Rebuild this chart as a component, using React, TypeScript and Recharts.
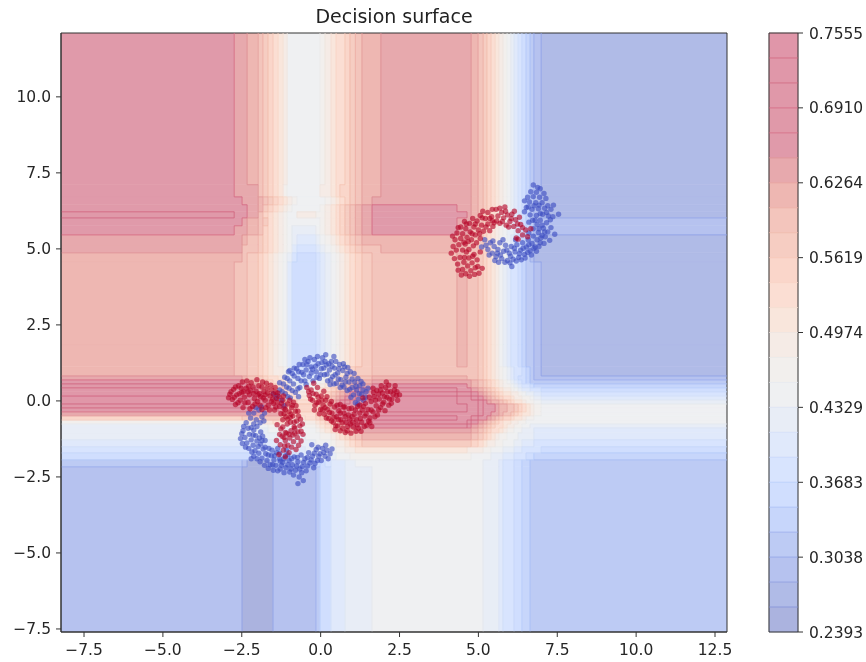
import React from 'react';
import { ScatterChart, Scatter, XAxis, YAxis, ReferenceArea, ReferenceLine } from 'recharts';

const xMin = -8.23;
const xMax = 12.88;
const yMin = -7.6;
const yMax = 12.1;
const xTicks = [-7.5, -5, -2.5, 0, 2.5, 5, 7.5, 10, 12.5];
const yTicks = [-7.5, -5, -2.5, 0, 2.5, 5, 7.5, 10];
const barTicks = [0.2393, 0.3038, 0.3683, 0.4329, 0.4974, 0.5619, 0.6264, 0.691, 0.7555];

// one letter per contour band, A is the top of the colorbar
const levelNames = 'ABCDEFGHIJKLMNOPQRSTUVWX';
const levelFills = [
  '#e096a9', '#e097a9', '#e098a9', '#e099a9', '#e09aaa', '#e7a9ad', '#eeb7b2', '#f3c5bc',
  '#f6cdc2', '#fad6ca', '#fbded3', '#f9e6dc', '#f5ebe6', '#f2efed', '#eff0f2', '#e8edf6',
  '#e0e9fb', '#d8e4fe', '#d0defe', '#c7d6fb', '#bdcbf4', '#b6c2ef', '#b0bbe7', '#abb3df',
];
const levelLines = [
  '#d0607c', '#d0607c', '#d0607c', '#d0607c', '#d4657f', '#dc8a90', '#e49a98', '#ebaaa0',
  '#f0b8a8', '#f5c4b4', '#f8d2c2', '#f4dccf', '#eee4df', '#eaeaea', '#e4e7ec', '#dbe3f2',
  '#d0ddf8', '#c4d6fa', '#b4cafa', '#a6bcf5', '#96aaec', '#8c9fe6', '#8798e0', '#7f8fd8',
];

const surfaceX = [
  xMin, -2.74, -2.49, -2.33, -1.98, -1.83, -1.67, -1.51, -1.35, -1.19, -1.06, -0.91, -0.75, -0.49, -0.15, -0.02,
  0.14, 0.33, 0.49, 0.61, 0.77, 0.93, 1.1, 1.31, 1.63, 1.91, 2.52, 3.15, 3.78, 4.32, 4.64, 4.77,
  4.99, 5.15, 5.27, 5.4, 5.53, 5.65, 5.78, 5.91, 6.03, 6.13, 6.26, 6.38, 6.51, 6.64, 6.76, 6.99, xMax,
];
const surfaceY = [
  yMax, 7.11, 6.71, 6.45, 6.22, 6.02, 5.76, 5.46, 5.13, 4.87, 4.57, 1.84, 1.12, 0.82, 0.69, 0.56, 0.43, 0.3, 0.16,
  0.03, -0.1, -0.23, -0.36, -0.49, -0.63, -0.76, -0.89, -1.05, -1.28, -1.51, -1.71, -1.94, -2.17, yMin,
];
const surfaceRows = [
  'EFFGHIJK LMOOOOON MLKKJIHG GFFFFFFG HIJKLMNO PQRSTUVW',
  'EFFFHIJK LNOOOOOM MLKJJIHG GFFFFFFG HIJKLMNO PQRSTUVW',
  'EEFFGHIJ KLMNOOOO NMLKJIHG FFFFFFFG HIJKLMNO PQRSTUVW',
  'EEEFGIJK LMNOOOON MLKJIHGF EEEEEFFG HIJKLMNO PQRSTUVW',
  'DEEFHJKL MNOOMMNN MLKJIHGF EEEEEEFG HIJKLMNO PQRSTUVW',
  'EEFGHIKL MNOOOOON MLKJIHGF EEEEEFFG HIJKLMNO PQRSTUVV',
  'EFFGHJKL MNOPPPON MLKJIHGF EEEEEFFH IJKLMNOP PQRSTUVV',
  'FFGHIJKL MNOPQQPO NMLKJIHG GGGGGGHH IJKLMNOP QRSTUVWW',
  'FFHHIJKL MNOQRRQP ONMLKJIH HGGGGGHH IJKLMNOP QRSTUVWW',
  'GGHIJKLM NOPRSSRQ PONMLKJI HHHHHGHH IJKLMNOP QRSTUVWW',
  'GHHIJKLM NOQSSSRQ PONMLKJI HHHHHGHH IJKLMOPQ RRSTUUVW',
  'GHHIJKLM NOQSSSRQ PONMLKJI HHHHHGHH IJKLMOPQ RRSTUUVW',
  'GHHIJKLM MNPRRRQP ONMLKJII HHHHHHHH IJKLMNOP QRRSTUVW',
  'FFGHIJKK LMOPQQPO NMLKJIHH GGGGGGHH IJKLMNOP QRSSTUVV',
  'EEFGHIJK KLNOPPON MLKJIHGG FFFFFFFG HIJKLMNO PQRSTUUU',
  'DDEFGHIJ JKMNOONM LKJIHGFF EEEEEEFG HIJKLMNN OPQRRSTT',
  'CCDEFGHI IJLMNNML KJIHGFEE DDDDDEEF GHIJKLMM NOPQQRRS',
  'CCCDEFGH HIKLMMLK JIHGFEDD CCCCCDDE FGHIJKLL MMNOPPQR',
  'BBBCDEFG GHJKLLKJ IHGFEDCC BBBBBCCD EFGHIJKK LMMNNOPQ',
  'BBBBCDEF FGIJKKJI HGFEDCCB BBBBBCCC DEFGGHIJ KLLMNNOP',
  'CCCCDEEE EFHIJJIH GFEDCCBB BBBBBBCC DEEEFGGH HIJKLMNO',
  'EEEEEEFF EFHIJJIH GFEDCCBB BBBBBBCC DEEEFGGH HIJKLMNO',
  'FFFFFFFF FGIJKKIH GFEDCCCC CCCCCCCC DEEFFGHH IJKLLMNO',
  'JJIIIHHH HIKLLKJI HGFEDCBB BBBBBCCD EEFGHIJJ KLLMNNOO',
  'NNNMMLLK KLMNNMLK JIHFEDCC CCCCCCDE FGHIJKLL MMNNOOOO',
  'PPPOOONN NNOOONML KJIGFEDD DDDDDDEF GHIJKKLM MNNOOPPP',
  'PPPPPPOO OOPPOONM LKJIHGFF FFFFFFFG HIJKKLMN NOOPPPQQ',
  'PPPPPPPP PPPPPOON NMLKJIHG GGGGGGGH IJKLMNNO OOPPPPQQ',
  'QQQQQQQQ QQQQPPOO ONMMLKJI IIIIIIIJ KLMMNNOO OPPQQQRR',
  'RRRRRRRR RRRQQPPP OONNMMLL LLLLLLMM MNNOOOPP PQQRRRRS',
  'SSSSSSSS SSSRQQPP PPOOONNN NNNNNNNO OOOPPPQQ QRRRSSTT',
  'UUVXXXVU VUUUUUTS RQQQPPOO OOOOOOOO OPPPPQRR RSSTTUUU',
  'VVXXXXXV VVVVVVUS SQQQPPPP OOOOOOOO OPPPPQRR RSSTTUUU',
];

// six arcs of samples
const redLeft = [
  [-2.88, 0.22], [-2.8, 0.05], [-2.76, 0.38], [-2.7, -0.12], [-2.66, 0.2], [-2.6, 0.5], [-2.55, 0.02], [-2.5, 0.28],
  [-2.46, -0.22], [-2.42, 0.12], [-2.36, 0.42], [-2.3, -0.05], [-2.26, 0.2], [-2.2, 0.6], [-2.16, -0.18], [-2.1, 0.08],
  [-2.05, 0.32], [-2, -0.02], [-1.96, 0.5], [-1.9, 0.14], [-1.86, -0.28], [-1.8, 0.3], [-1.76, 0.02], [-1.7, 0.42],
  [-1.66, -0.14], [-1.6, 0.16], [-1.55, 0.36], [-1.5, -0.08], [-1.46, -0.3], [-1.4, 0.08], [-1.36, 0.26], [-1.3, -0.18],
  [-1.26, -0.42], [-1.2, 0.02], [-1.16, -0.24], [-1.1, -0.52], [-1.05, -0.1], [-1, -0.36], [-0.96, -0.7], [-0.92, -0.22],
  [-0.88, -0.5], [-0.84, -0.86], [-0.8, -0.34], [-0.76, -0.66], [-0.72, -1.02], [-0.7, -0.5], [-0.66, -0.82], [-0.74, -1.2],
  [-0.82, -1.06], [-0.86, -1.34], [-0.94, -0.98], [-0.98, -1.22], [-1.04, -1.46], [-1.08, -1.06], [-1.12, -1.3], [-1.18, -1.62],
  [-1.22, -1.16], [-1.28, -1.44], [-1.32, -1.76], [-1.06, -0.76], [-1.2, -0.62], [-1.5, 0.22], [-1.74, -0.22], [-2.22, 0.34],
  [-2.58, 0.24], [-1.94, 0.24], [-0.9, -0.14], [-0.62, -1], [-1.4, -1.3], [-1.12, -1.84],
  [-2.92, 0.1], [-2.84, 0.3], [-2.74, 0.12], [-2.7, 0.46], [-2.62, -0.06], [-2.52, 0.42], [-2.48, 0.62], [-2.4, -0.06],
  [-2.34, 0.66], [-2.28, 0.48], [-2.24, -0.26], [-2.14, 0.46], [-2.08, -0.1], [-2.02, 0.7], [-1.98, 0.2], [-1.92, -0.14],
  [-1.84, 0.62], [-1.82, 0.1], [-1.72, 0.58], [-1.68, 0.26], [-1.62, -0.3], [-1.58, 0.52], [-1.52, 0.06], [-1.44, 0.44],
  [-1.38, -0.04], [-1.32, 0.14], [-1.24, -0.08], [-1.18, 0.16], [-1.12, -0.28], [-1.04, -0.6], [-0.98, 0.02], [-0.94, -0.44],
  [-0.86, -0.04], [-0.78, -0.16], [-0.72, -0.34], [-0.64, -0.6], [-0.58, -0.76], [-0.56, -1.1], [-0.62, -1.32], [-0.7, -1.46],
  [-0.78, -1.6], [-0.92, -1.52], [-1, -1.7], [-1.14, -1.48], [-1.26, -0.92], [-1.3, -1.1], [-1.38, -0.78], [-1.2, -0.86],
  [-1.12, -1.04], [-0.84, -0.7], [-0.88, -1.12], [-0.96, -0.54], [-1.16, -0.42], [-1.42, 0.28], [-1.86, 0.46], [-2.3, 0.3],
  [-2.44, 0.3], [-2.12, 0.24], [-1.76, 0.2], [-1.56, -0.02], [-1.42, -0.2], [-0.82, -0.9], [-1, -1.1], [-1.16, -1.2],
];
const blueLower = [
  [-1.96, -0.3], [-2.12, -0.4], [-1.86, -0.52], [-2.04, -0.62], [-2.22, -0.56], [-2.36, -0.72], [-2.12, -0.76], [-1.92, -0.72],
  [-2.3, -0.9], [-2.46, -0.98], [-2.12, -0.96], [-2.26, -1.1], [-2.4, -1.2], [-2.06, -1.14], [-2.2, -1.28], [-2.34, -1.38],
  [-2.02, -1.32], [-2.14, -1.46], [-2.28, -1.56], [-1.98, -1.5], [-2.08, -1.64], [-1.9, -1.42], [-1.82, -1.58], [-1.96, -1.72],
  [-2.12, -1.82], [-1.74, -1.74], [-1.86, -1.88], [-1.64, -1.56], [-1.7, -1.96], [-1.56, -1.8], [-1.6, -2.1], [-1.48, -1.94],
  [-1.4, -1.7], [-1.42, -2.12], [-1.3, -1.9], [-1.28, -2.24], [-1.2, -2.02], [-1.12, -1.8], [-1.1, -2.2], [-1, -1.96],
  [-0.98, -2.34], [-0.9, -2.1], [-0.84, -1.84], [-0.8, -2.28], [-0.72, -2], [-0.68, -2.5], [-0.62, -1.78], [-0.58, -2.16],
  [-0.5, -1.9], [-0.46, -2.3], [-0.38, -1.7], [-0.34, -2.04], [-0.26, -1.82], [-0.22, -2.2], [-0.14, -1.6], [-0.1, -1.96],
  [-0.02, -1.74], [0.06, -1.56], [0.14, -1.82], [0.2, -1.62], [-1.76, -1.3], [-1.5, -2.28], [-2.5, -1.08], [-1.08, -1.62],
  [-0.28, -1.44], [0.3, -1.74], [-1.84, -1.16], [-1.36, -1.56],
  [-2.06, -0.22], [-1.88, -0.2], [-1.78, -0.4], [-2.28, -0.4], [-1.8, -0.66], [-2.44, -0.84], [-2.02, -0.84], [-2.54, -1.24],
  [-2.2, -0.88], [-1.9, -1.02], [-2.48, -1.4], [-2.14, -1.12], [-1.94, -1.22], [-2.38, -1.52], [-2.18, -1.68], [-1.86, -1.3],
  [-2.2, -1.9], [-2.02, -1.9], [-1.92, -2], [-1.76, -1.52], [-1.78, -2.12], [-1.66, -1.78], [-1.54, -1.62], [-1.66, -2.22],
  [-1.52, -2.1], [-1.46, -1.8], [-1.36, -2.3], [-1.3, -1.72], [-1.24, -2.12], [-1.16, -1.9], [-1.16, -2.36], [-1.04, -2.1],
  [-1.04, -1.78], [-0.92, -1.9], [-0.94, -2.24], [-0.86, -2.44], [-0.76, -2.14], [-0.74, -1.86], [-0.66, -2.24], [-0.6, -2.36],
  [-0.54, -2.02], [-0.42, -2.14], [-0.42, -1.86], [-0.3, -1.94], [-0.18, -2.06], [-0.2, -1.72], [-0.06, -1.82], [0.02, -1.96],
  [0.1, -1.7], [-0.08, -1.52], [0.24, -1.9], [0.36, -1.58], [0.16, -1.46], [-0.55, -2.62], [-0.72, -2.72], [-1.28, -1.98],
];
const blueTop = [
  [-1.42, 0.1], [-1.3, 0.36], [-1.24, 0.02], [-1.18, 0.56], [-1.12, 0.24], [-1.06, 0.74], [-1, 0.42], [-0.96, 0.1],
  [-0.9, 0.9], [-0.86, 0.56], [-0.8, 0.28], [-0.76, 1.06], [-0.72, 0.74], [-0.66, 0.44], [-0.6, 0.94], [-0.56, 1.2],
  [-0.5, 0.66], [-0.46, 1.02], [-0.4, 1.3], [-0.36, 0.8], [-0.3, 1.12], [-0.24, 0.66], [-0.2, 1.36], [-0.14, 0.96],
  [-0.08, 1.22], [-0.04, 0.74], [0.02, 1.06], [0.06, 1.42], [0.12, 0.86], [0.18, 1.18], [0.22, 0.66], [0.28, 1.02],
  [0.34, 1.3], [0.38, 0.8], [0.44, 1.08], [0.5, 0.58], [0.54, 0.92], [0.6, 1.2], [0.64, 0.7], [0.7, 1],
  [0.74, 0.46], [0.8, 0.78], [0.84, 0.34], [0.9, 0.62], [0.94, 0.96], [1, 0.44], [1.04, 0.2], [1.08, 0.62],
  [1.14, 0.36], [1.2, 0.06], [1.24, 0.5], [1.3, 0.22], [1.36, 0.02], [1.1, -0.06], [1.44, 0.3], [-0.7, 0.14],
  [-1.16, -0.16], [0.96, 0.12], [0.3, 0.54], [-0.26, 1.04], [0.76, 1.12], [1.34, 0.56], [-1.02, 0.96], [0.42, 1.46],
  [-1.5, 0.24], [-1.36, 0.18], [-1.3, 0.6], [-1.22, 0.3], [-1.14, 0.78], [-1.08, 0.46], [-0.98, 0.66], [-0.98, 1],
  [-0.84, 0.82], [-0.84, 1.08], [-0.7, 0.96], [-0.62, 0.66], [-0.68, 1.2], [-0.54, 0.86], [-0.46, 0.54], [-0.44, 1.2],
  [-0.34, 1.42], [-0.3, 0.92], [-0.16, 1.14], [-0.12, 0.78], [-0.1, 1.46], [0, 0.86], [0.04, 1.26], [0.1, 1.08],
  [0.14, 1.3], [0.2, 0.88], [0.26, 1.22], [0.32, 0.7], [0.36, 1.14], [0.46, 0.86], [0.48, 1.3], [0.56, 0.72],
  [0.58, 1.06], [0.68, 0.52], [0.72, 1.22], [0.78, 0.62], [0.84, 0.9], [0.86, 1.1], [0.92, 0.38], [1, 0.72],
  [1.06, 0.9], [1.12, 0.48], [1.18, 0.74], [1.22, 0.24], [1.28, 0.64], [1.34, 0.36], [1.42, 0.12], [1.5, 0.42],
  [0.16, 1.52], [-0.5, 1.36], [-0.72, 0.4], [-0.9, 0.34], [-1.04, 0.14], [0.62, 0.44], [0.42, 0.56], [1.18, -0.1],
];
const redRight = [
  [-0.44, 0.44], [-0.36, 0.18], [-0.3, 0.36], [-0.26, 0.02], [-0.22, 0.58], [-0.18, -0.14], [-0.14, 0.22], [-0.1, 0.44],
  [-0.06, -0.04], [0, -0.28], [0.02, 0.16], [0.08, -0.14], [0.12, -0.44], [0.16, 0.02], [0.22, -0.28], [0.26, -0.58],
  [0.3, -0.1], [0.36, -0.4], [0.4, -0.7], [0.44, -0.2], [0.5, -0.52], [0.54, -0.82], [0.58, -0.32], [0.64, -0.62],
  [0.7, -0.9], [0.74, -0.4], [0.8, -0.7], [0.84, -0.98], [0.88, -0.46], [0.94, -0.76], [1, -0.52], [1.04, -0.86],
  [1.1, -0.3], [1.14, -0.62], [1.2, -0.9], [1.24, -0.4], [1.3, -0.7], [1.36, -0.18], [1.4, -0.5], [1.46, -0.8],
  [1.5, -0.28], [1.56, -0.56], [1.6, -0.02], [1.66, -0.36], [1.7, 0.14], [1.76, -0.16], [1.8, -0.46], [1.86, 0.06],
  [1.9, -0.22], [1.96, 0.26], [2, -0.04], [2.06, 0.44], [2.1, 0.12], [2.16, -0.14], [2.22, 0.3], [2.26, 0.06],
  [2.34, 0.36], [2.4, 0.18], [2.16, 0.52], [1.78, 0.34], [1.24, -0.14], [0.62, -0.12], [0.1, 0.32], [0.98, -0.24],
  [1.56, -0.72], [0.46, -0.94], [2.44, 0.02], [1.92, 0.5],
  [-0.38, 0.3], [-0.32, 0.06], [-0.24, 0.24], [-0.2, -0.3], [-0.12, -0.06], [-0.08, 0.12], [-0.04, -0.42], [0.04, 0.02],
  [0.06, -0.3], [0.14, -0.22], [0.18, -0.56], [0.2, 0.14], [0.28, -0.38], [0.34, -0.66], [0.34, -0.02], [0.42, -0.54],
  [0.48, -0.82], [0.52, -0.14], [0.56, -0.62], [0.62, -0.4], [0.62, -0.98], [0.68, -0.72], [0.72, -0.2], [0.78, -0.52],
  [0.78, -1.04], [0.86, -0.84], [0.9, -0.26], [0.92, -0.6], [0.96, -1.06], [1.02, -0.7], [1.06, -0.44], [1.12, -1],
  [1.16, -0.78], [1.18, -0.18], [1.26, -0.58], [1.28, -1], [1.32, -0.3], [1.38, -0.84], [1.42, -0.08], [1.44, -0.42],
  [1.52, -0.66], [1.54, 0.12], [1.6, -0.3], [1.62, -0.84], [1.68, 0.28], [1.72, -0.52], [1.74, 0.02], [1.84, -0.3],
  [1.84, 0.22], [1.9, 0.36], [1.96, -0.1], [2.02, 0.14], [2.04, -0.32], [2.12, 0.3], [2.18, 0.06], [2.24, -0.08],
  [2.3, 0.22], [2.36, 0.5], [2.42, 0.3], [2.5, 0.2], [2.08, 0.62], [1.66, 0.42], [1.34, 0.1], [0.76, -0.2],
];
const redUpper = [
  [4.34, 4.5], [4.42, 4.72], [4.5, 4.32], [4.54, 4.56], [4.6, 4.18], [4.66, 4.44], [4.7, 4.7], [4.76, 4.28],
  [4.8, 4.54], [4.86, 4.82], [4.9, 4.38], [4.96, 4.64], [5.02, 4.2], [5.06, 4.9], [4.3, 4.96], [4.2, 5.08],
  [4.38, 5.14], [4.5, 4.96], [4.26, 5.3], [4.44, 5.34], [4.58, 5.16], [4.7, 4.98], [4.84, 5.1], [4.32, 5.52],
  [4.5, 5.5], [4.64, 5.38], [4.78, 5.3], [4.94, 5.2], [4.44, 5.72], [4.6, 5.66], [4.74, 5.56], [4.9, 5.46],
  [4.56, 5.9], [4.72, 5.84], [4.86, 5.72], [5, 5.62], [4.82, 6], [4.96, 5.92], [5.1, 5.78], [5.16, 5.58],
  [5.06, 6.1], [5.22, 6], [5.3, 5.82], [5.36, 5.6], [5.3, 6.2], [5.42, 6.06], [5.5, 5.86], [5.56, 6.3],
  [5.62, 6.08], [5.68, 5.84], [5.74, 6.2], [5.8, 6.02], [5.88, 5.78], [5.92, 6.12], [6, 5.9], [6.06, 6.14],
  [6.12, 5.74], [6.18, 5.96], [6.26, 5.6], [6.34, 5.8], [6.4, 5.46], [6.5, 5.62], [6.2, 5.36], [5.46, 5.74],
  [4.14, 4.86], [4.24, 4.68], [4.36, 4.3], [4.46, 4.14], [4.56, 4.72], [4.62, 4.9], [4.72, 4.1], [4.82, 4.76],
  [4.88, 4.16], [4.98, 4.42], [5.12, 4.36], [4.18, 5.42], [4.36, 5.7], [4.54, 5.22], [4.68, 5.24], [4.8, 5.5],
  [5.06, 5.34], [4.62, 5.82], [4.9, 5.82], [5.04, 5.5], [5.12, 6.02], [5.24, 5.72], [5.36, 6], [5.44, 5.92],
  [5.44, 6.3], [5.58, 5.92], [5.68, 6.34], [5.76, 5.9], [5.86, 6.24], [5.96, 5.72], [6.04, 6], [6.14, 6.24],
  [6.24, 5.82], [6.3, 6.04], [6.4, 5.7], [6.56, 5.4], [6.66, 5.66], [6.26, 5.32], [5.84, 6.38], [5.14, 6.24],
];
const blueRight = [
  [5.2, 5.3], [5.3, 4.98], [5.38, 5.2], [5.44, 4.86], [5.5, 5.08], [5.56, 4.74], [5.62, 4.98], [5.68, 5.2],
  [5.74, 4.68], [5.8, 4.92], [5.86, 5.12], [5.92, 4.62], [5.98, 4.86], [6.04, 5.08], [6.1, 4.66], [6.16, 4.9],
  [6.22, 5.14], [6.28, 4.72], [6.34, 4.96], [6.4, 5.2], [6.46, 4.82], [6.52, 5.06], [6.58, 5.3], [6.64, 4.94],
  [6.7, 5.18], [6.74, 5.42], [6.8, 5.06], [6.86, 5.3], [6.9, 5.54], [6.96, 5.2], [7.02, 5.44], [7.06, 5.68],
  [6.74, 5.66], [6.86, 5.8], [7.12, 5.4], [7.16, 5.86], [6.96, 5.94], [6.72, 5.94], [7.22, 6.08], [7.04, 6.14],
  [6.84, 6.1], [6.64, 6.12], [7.3, 6.3], [7.1, 6.34], [6.9, 6.32], [6.7, 6.3], [6.52, 6.36], [7.02, 6.52],
  [6.82, 6.52], [6.62, 6.54], [7.14, 6.66], [6.94, 6.7], [6.74, 6.72], [6.56, 6.7], [6.84, 6.86], [6.66, 6.88],
  [6.96, 6.98], [6.74, 7.1], [7.3, 5.7], [7.54, 6.14], [7.42, 5.48], [6.18, 5.3], [5.64, 4.56], [6.06, 4.42],
  [5.1, 5.06], [5.24, 5.12], [5.34, 4.8], [5.46, 5.26], [5.52, 4.62], [5.6, 4.86], [5.7, 4.8], [5.78, 5.3],
  [5.84, 4.56], [5.9, 4.96], [6, 4.54], [6.02, 4.76], [6.14, 5.02], [6.2, 4.6], [6.3, 4.84], [6.36, 4.64],
  [6.42, 5.02], [6.48, 4.7], [6.56, 4.88], [6.6, 5.14], [6.68, 4.8], [6.76, 5.02], [6.84, 4.92], [6.92, 5.08],
  [6.98, 5.36], [7.08, 5.18], [7.2, 5.56], [7.26, 5.28], [7.1, 5.56], [6.6, 5.52], [7.02, 5.78], [6.92, 5.66],
  [7.28, 5.96], [6.8, 5.94], [7.36, 6.06], [6.6, 5.88], [7.16, 6.2], [6.96, 6.16], [6.46, 6.22], [6.76, 6.42],
  [7.2, 6.42], [6.92, 6.44], [6.58, 6.38], [7.38, 6.44], [6.46, 6.58], [7.08, 6.82], [6.88, 7.02],
];

const redPoints = [...redLeft, ...redRight, ...redUpper].map(([x, y]) => ({ x, y }));
const bluePoints = [...blueLower, ...blueTop, ...blueRight].map(([x, y]) => ({ x, y }));
const barMarks = [{ x: 0.5, y: 0.5 }];

const fontFamily = '"DejaVu Sans", sans-serif';
const tickStyle = { fontSize: 15.5, fill: '#262626', fontFamily };
const tickLine = { stroke: '#333', strokeWidth: 1 };
const axisLine = { stroke: '#333', strokeWidth: 1 };

const rows = surfaceRows.map((r) => r.replace(/ /g, ''));

// small see-through dot, the default symbol is too big here
const Dot = (props: any) => <circle cx={props.cx} cy={props.cy} r={2.7} fill={props.fill} fillOpacity={0.62} />;

// horizontal runs of equal level, one filled rectangle each
const surfaceCells = () => {
  const cells: React.ReactElement[] = [];
  rows.forEach((row, r) => {
    let start = 0;
    for (let c = 1; c <= row.length; c++) {
      if (c === row.length || row[c] !== row[start]) {
        const level = levelNames.indexOf(row[start]);
        cells.push(
          <ReferenceArea
            key={`c${r}-${start}`}
            x1={surfaceX[start]}
            x2={surfaceX[c]}
            y1={surfaceY[r + 1]}
            y2={surfaceY[r]}
            fill={levelFills[level]}
            fillOpacity={1}
            stroke={levelFills[level]}
            strokeWidth={0.6}
            ifOverflow="hidden"
          />
        );
        start = c;
      }
    }
  });
  return cells;
};

// contour lines where two neighbouring cells are in different bands
const contourLines = () => {
  const lines: React.ReactElement[] = [];
  const color = (a: string, b: string) => levelLines[Math.min(levelNames.indexOf(a), levelNames.indexOf(b))];
  rows.forEach((row, r) => {
    for (let c = 1; c < row.length; c++) {
      if (row[c] !== row[c - 1]) {
        lines.push(
          <ReferenceLine
            key={`v${r}-${c}`}
            segment={[{ x: surfaceX[c], y: surfaceY[r] }, { x: surfaceX[c], y: surfaceY[r + 1] }]}
            stroke={color(row[c], row[c - 1])}
            strokeOpacity={0.8}
            strokeWidth={1}
          />
        );
      }
    }
    if (r === 0) return;
    const above = rows[r - 1];
    let start = -1;
    for (let c = 0; c <= row.length; c++) {
      const differs = c < row.length && row[c] !== above[c];
      const same = start >= 0 && c < row.length && row[c] === row[start] && above[c] === above[start];
      if (start >= 0 && !same) {
        lines.push(
          <ReferenceLine
            key={`h${r}-${start}`}
            segment={[{ x: surfaceX[start], y: surfaceY[r] }, { x: surfaceX[c], y: surfaceY[r] }]}
            stroke={color(row[start], above[start])}
            strokeOpacity={0.8}
            strokeWidth={1}
          />
        );
        start = -1;
      }
      if (differs && start < 0) start = c;
    }
  });
  return lines;
};

const formatTick = (v: number) => v.toFixed(1).replace('-', '\u2212');

export default function App() {
  const barLevels = levelFills.map((fill, i) => ({
    fill,
    line: levelLines[i],
    top: barTicks[8] - (i * (barTicks[8] - barTicks[0])) / 24,
    bottom: barTicks[8] - ((i + 1) * (barTicks[8] - barTicks[0])) / 24,
  }));

  return (
    <div
      style={{
        position: 'absolute',
        left: 0,
        top: 0,
        width: 866,
        height: 662,
        background: '#fff',
        overflow: 'hidden',
        filter: 'blur(0.45px)',
      }}
    >
      <div
        style={{
          position: 'absolute',
          left: 61,
          width: 666,
          top: 5,
          textAlign: 'center',
          fontFamily,
          fontSize: 19,
          color: '#222',
        }}
      >
        Decision surface
      </div>

      <div style={{ position: 'absolute', left: 0, top: 0 }}>
        <ScatterChart width={866} height={662} margin={{ left: 11, right: 139, top: 33, bottom: 0 }}>
          <XAxis
            type="number"
            dataKey="x"
            domain={[xMin, xMax]}
            ticks={xTicks}
            interval={0}
            allowDataOverflow
            height={30}
            tick={tickStyle}
            tickLine={tickLine}
            axisLine={axisLine}
            tickSize={5}
            tickMargin={7}
            tickFormatter={formatTick}
          />
          <YAxis
            type="number"
            dataKey="y"
            domain={[yMin, yMax]}
            ticks={yTicks}
            interval={0}
            allowDataOverflow
            width={50}
            tick={tickStyle}
            tickLine={tickLine}
            axisLine={axisLine}
            tickSize={5}
            tickMargin={5}
            tickFormatter={formatTick}
          />
          {surfaceCells()}
          {contourLines()}
          <ReferenceArea x1={xMin} x2={xMax} y1={yMin} y2={yMax} fill="none" stroke="#333" strokeWidth={1} />
          <Scatter data={bluePoints} fill="#3b4cc0" shape={Dot} isAnimationActive={false} />
          <Scatter data={redPoints} fill="#b40426" shape={Dot} isAnimationActive={false} />
        </ScatterChart>
      </div>

      <div style={{ position: 'absolute', left: 0, top: 0 }}>
        <ScatterChart width={866} height={662} margin={{ left: 769, right: 0, top: 33, bottom: 30 }}>
          <XAxis type="number" dataKey="x" domain={[0, 1]} allowDataOverflow hide />
          <YAxis
            type="number"
            dataKey="y"
            orientation="right"
            domain={[barTicks[0], barTicks[8]]}
            ticks={barTicks}
            interval={0}
            allowDataOverflow
            width={68}
            tick={tickStyle}
            tickLine={tickLine}
            axisLine={false}
            tickSize={5}
            tickMargin={6}
            tickFormatter={(v: number) => v.toFixed(4)}
          />
          {barLevels.map((b) => (
            <ReferenceArea key={b.fill} x1={0} x2={1} y1={b.bottom} y2={b.top} fill={b.fill} fillOpacity={1} stroke={b.fill} strokeWidth={0.5} />
          ))}
          {barLevels.slice(1).map((b) => (
            <ReferenceLine key={b.line + b.top} y={b.top} stroke={b.line} strokeOpacity={0.7} strokeWidth={1} />
          ))}
          <ReferenceArea x1={0} x2={1} y1={barTicks[0]} y2={barTicks[8]} fill="none" stroke="#333" strokeWidth={1} />
          <Scatter data={barMarks} fill="none" isAnimationActive={false} />
        </ScatterChart>
      </div>
    </div>
  );
}
